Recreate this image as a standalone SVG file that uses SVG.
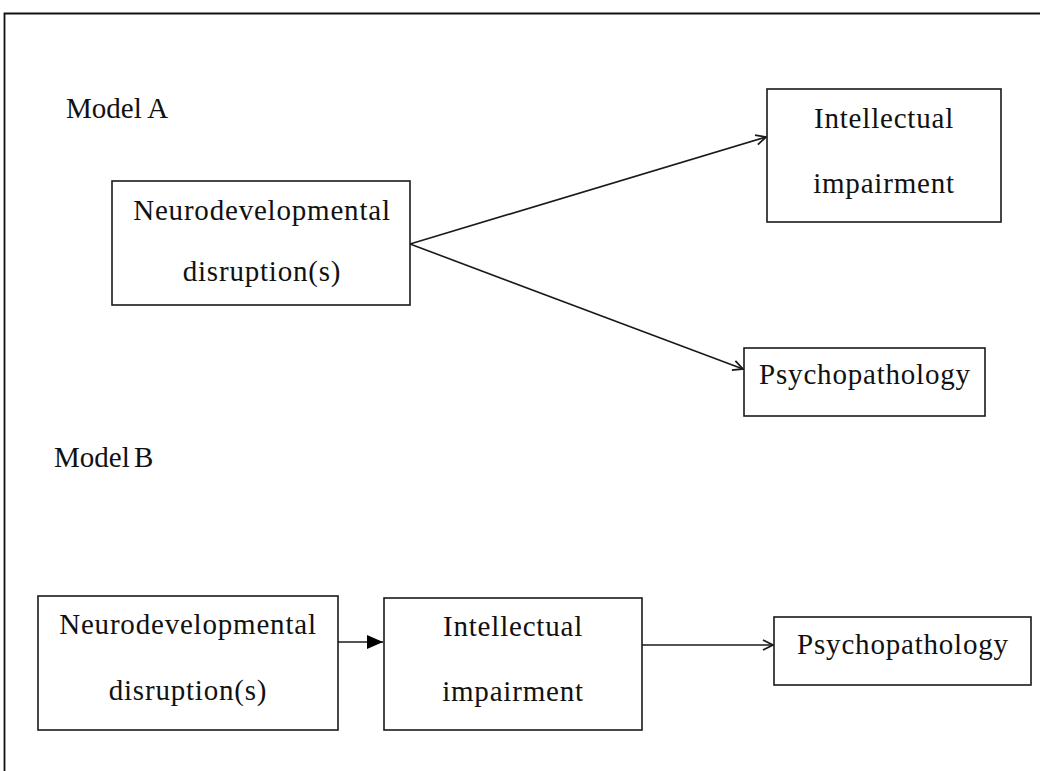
<svg xmlns="http://www.w3.org/2000/svg" width="1040" height="771" viewBox="0 0 1040 771">
  <style>
    .box { fill: #ffffff; stroke: #1a1a1a; stroke-width: 1.6; }
    .lbl { font-family: "Liberation Serif", "Times New Roman", serif; font-size: 29px; fill: #111111; text-anchor: middle; letter-spacing: 0.8px; }
    .title { font-family: "Liberation Serif", "Times New Roman", serif; font-size: 29px; fill: #111111; }
    .edge { stroke: #1a1a1a; stroke-width: 1.6; fill: none; }
  </style>
  <defs>
    <marker id="open" viewBox="0 0 12 12" refX="11" refY="6" markerWidth="12" markerHeight="12" markerUnits="userSpaceOnUse" orient="auto">
      <path d="M1,1 L11,6 L1,11" fill="none" stroke="#1a1a1a" stroke-width="1.8"/>
    </marker>
    <marker id="solid" viewBox="0 0 16 14" refX="16" refY="7" markerWidth="16" markerHeight="14" markerUnits="userSpaceOnUse" orient="auto">
      <path d="M0,0 L16,7 L0,14 Z" fill="#000000"/>
    </marker>
  </defs>

  <rect x="0" y="0" width="1040" height="771" fill="#ffffff"/>
  <!-- page frame -->
  <path d="M4.5,771 L4.5,13.5 L1040,13.5" fill="none" stroke="#111111" stroke-width="1.8"/>

  <text class="title" x="66" y="118">Model A</text>
  <text class="title" x="54" y="467" word-spacing="-3">Model B</text>

  <g id="connectors">
    <line class="edge" x1="410" y1="244" x2="766" y2="137" marker-end="url(#open)"/>
    <line class="edge" x1="410" y1="244" x2="743" y2="369" marker-end="url(#open)"/>
    <line class="edge" x1="338" y1="642" x2="383" y2="642" marker-end="url(#solid)"/>
    <line class="edge" x1="642" y1="645" x2="773" y2="645" marker-end="url(#open)"/>
  </g>

  <g id="a-neuro">
    <rect class="box" x="112" y="181" width="298" height="124"/>
    <text class="lbl" x="262" y="220">Neurodevelopmental</text>
    <text class="lbl" x="262" y="281">disruption(s)</text>
  </g>
  <g id="a-intellectual">
    <rect class="box" x="767" y="89" width="234" height="133"/>
    <text class="lbl" x="884" y="128">Intellectual</text>
    <text class="lbl" x="884" y="193">impairment</text>
  </g>
  <g id="a-psycho">
    <rect class="box" x="744" y="348" width="241" height="68"/>
    <text class="lbl" x="865" y="384">Psychopathology</text>
  </g>

  <g id="b-neuro">
    <rect class="box" x="38" y="596" width="300" height="134"/>
    <text class="lbl" x="188" y="634">Neurodevelopmental</text>
    <text class="lbl" x="188" y="700">disruption(s)</text>
  </g>
  <g id="b-intellectual">
    <rect class="box" x="384" y="598" width="258" height="132"/>
    <text class="lbl" x="513" y="636">Intellectual</text>
    <text class="lbl" x="513" y="701">impairment</text>
  </g>
  <g id="b-psycho">
    <rect class="box" x="774" y="617" width="257" height="68"/>
    <text class="lbl" x="903" y="654">Psychopathology</text>
  </g>
</svg>
